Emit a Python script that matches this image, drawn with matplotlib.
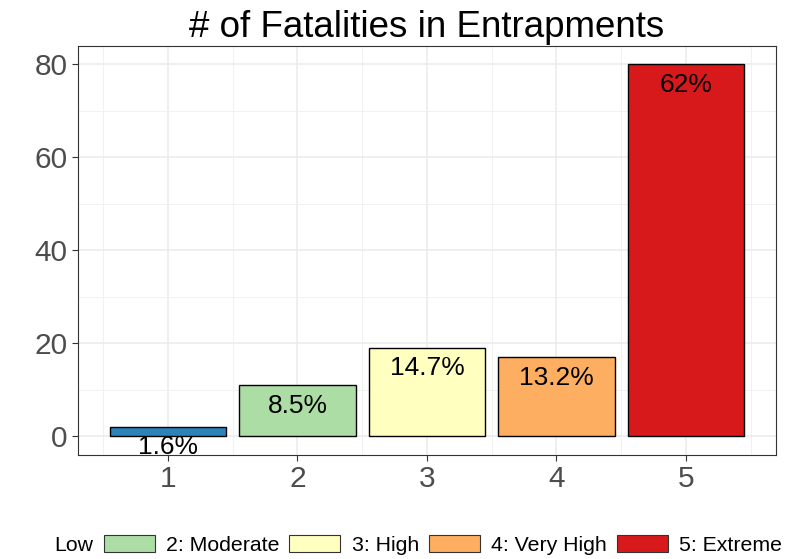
import numpy as np
import matplotlib.pyplot as plt
from matplotlib.patches import Patch

classes = [1, 2, 3, 4, 5]
fatalities = [2, 11, 19, 17, 80]
pct_labels = ["1.6%", "8.5%", "14.7%", "13.2%", "62%"]
legend_labels = ["Low", "2: Moderate", "3: High", "4: Very High", "5: Extreme"]
colors = ["#2B83BA", "#ABDDA4", "#FFFFBF", "#FDAE61", "#D7191C"]

plt.rcParams["font.family"] = ["Liberation Sans", "DejaVu Sans"]


def plot_fatalities():
    fig = plt.figure(figsize=(8.05, 5.59), dpi=100)
    ax = fig.add_axes([0.0969, 0.186, 0.867, 0.732])

    ax.bar(classes, fatalities, width=0.9, color=colors, edgecolor="black",
           linewidth=1.0, zorder=3)
    for x, y, lab in zip(classes, fatalities, pct_labels):
        ax.annotate(lab, (x, y), xytext=(0, -6), textcoords="offset points",
                    ha="center", va="top", fontsize=19, color="black",
                    zorder=4, annotation_clip=False, clip_on=True)

    ax.set_xlim(0.305, 5.695)
    ax.set_ylim(-4, 84)
    ax.set_xticks(classes)
    ax.set_yticks([0, 20, 40, 60, 80])
    ax.set_xticks(np.arange(0.5, 6, 1.0), minor=True)
    ax.set_yticks([10, 30, 50, 70], minor=True)
    ax.grid(which="major", color="#EBEBEB", linewidth=1.1, zorder=0)
    ax.grid(which="minor", color="#EFEFEF", linewidth=0.6, zorder=0)
    ax.set_axisbelow(True)
    ax.tick_params(which="major", length=4.5, width=0.8, color="#333333",
                   labelsize=21.5, labelcolor="#4D4D4D", pad=3)
    ax.tick_params(which="minor", length=0)
    for s in ax.spines.values():
        s.set_color("#333333")
        s.set_linewidth(0.8)

    ax.set_title("# of Fatalities in Entrapments", fontsize=26.5, pad=6.5)

    handles = [Patch(facecolor="none", edgecolor="none")]
    handles += [Patch(facecolor=c, edgecolor="#333333", linewidth=0.8)
                for c in colors[1:]]
    fig.legend(handles, legend_labels, loc="center right",
               bbox_to_anchor=(0.982, 0.025), ncol=5, frameon=False,
               fontsize=15.3, handlelength=2.4, handleheight=0.84,
               handletextpad=0.52, columnspacing=0.48, borderaxespad=0)

    fig.savefig("out.png", dpi=100)


plot_fatalities()
